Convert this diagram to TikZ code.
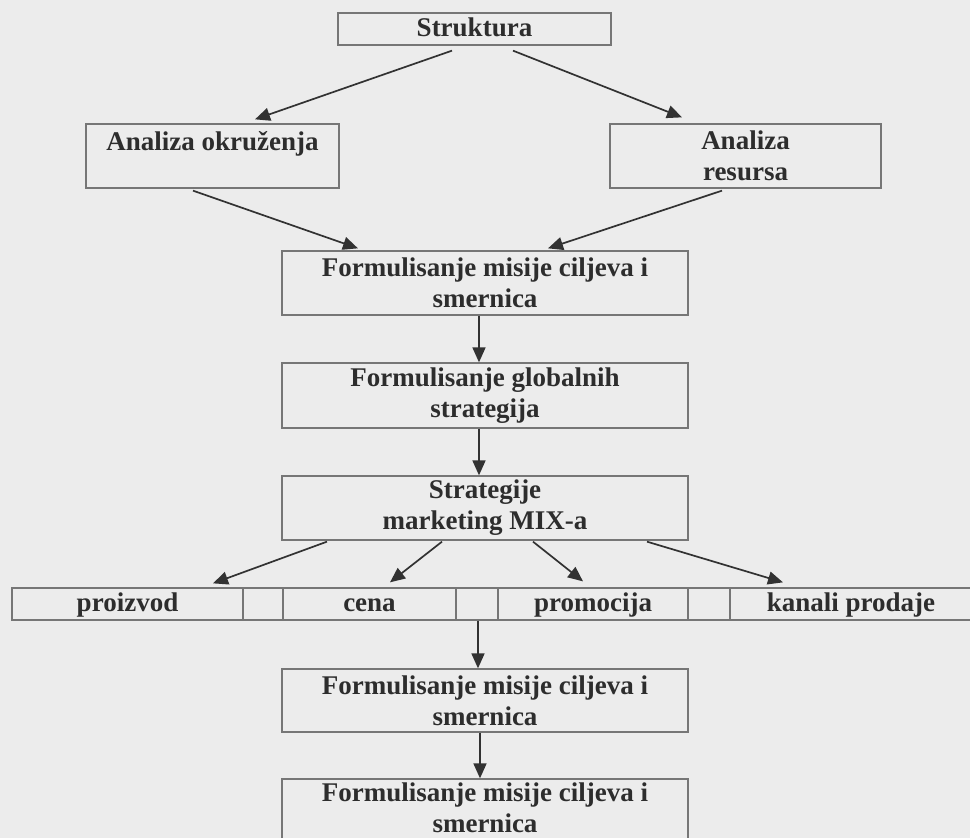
\documentclass[tikz,border=0pt]{standalone}
\usepackage{fontspec}
\setmainfont{Liberation Serif}
\usetikzlibrary{arrows.meta}
\definecolor{bg}{RGB}{236,236,236}
\definecolor{boxline}{RGB}{118,118,118}
\definecolor{ink}{RGB}{45,45,45}
\definecolor{arrowink}{RGB}{50,50,50}
\begin{document}
\begin{tikzpicture}[x=1pt,y=-1pt,
  box/.style={draw=boxline, line width=1.3pt, inner sep=0pt, align=center,
    text=ink, font=\bfseries\fontsize{27}{31}\selectfont},
  cell/.style={box, minimum height=32pt, text height=19pt, text depth=5pt},
  arr/.style={draw=arrowink, line width=1.7pt, -{Triangle[length=15pt,width=13pt]}},
]
\clip (0,0) rectangle (970,838);
\fill[bg] (0,0) rectangle (970,838);

% planning chain
\node[box, minimum width=273pt, minimum height=32pt, text height=19pt, text depth=5pt] (struk) at (474.5,29) {Struktura};
\node[box, minimum width=253pt, minimum height=64pt] (okr) at (212.5,156) {Analiza okruženja\\\mbox{}};
\node[box, minimum width=271pt, minimum height=64pt] (res) at (745.5,156) {Analiza\\resursa};
\node[box, minimum width=406pt, minimum height=64pt] (f1) at (485,283) {Formulisanje misije ciljeva i\\smernica};
\node[box, minimum width=406pt, minimum height=65pt] (glob) at (485,395.5) {Formulisanje globalnih\\strategija};
\node[box, minimum width=406pt, minimum height=64pt] (strat) at (485,508) {Strategije\\marketing MIX-a};

% marketing mix row
\node[cell, minimum width=231pt] (proiz) at (127.5,604) {proizvod};
\node[cell, minimum width=40pt] (e1) at (263,604) {};
\node[cell, minimum width=173pt] (cena) at (369.5,604) {cena};
\node[cell, minimum width=42pt] (e2) at (477,604) {};
\node[cell, minimum width=190pt] (promo) at (593,604) {promocija};
\node[cell, minimum width=42pt] (e3) at (709,604) {};
\node[cell, minimum width=242pt] (kanal) at (851,604) {kanali prodaje};

\node[box, minimum width=406pt, minimum height=63pt] (f2) at (485,700.5) {Formulisanje misije ciljeva i\\smernica};
\node[box, minimum width=406pt, minimum height=64pt] (f3) at (485,811) {Formulisanje misije ciljeva i\\smernica\vphantom{g}};

% connectors
\draw[arr] ([xshift=-22.5pt,yshift=-5pt]struk.south) -- ([xshift=42.5pt,yshift=4pt]okr.north);
\draw[arr] ([xshift=38.5pt,yshift=-5pt]struk.south) -- ([xshift=-63.5pt,yshift=6pt]res.north);
\draw[arr] ([xshift=-19.5pt,yshift=-2pt]okr.south) -- ([xshift=-127pt,yshift=2pt]f1.north);
\draw[arr] ([xshift=-23.5pt,yshift=-2pt]res.south) -- ([xshift=63pt,yshift=2pt]f1.north);
\draw[arr] ([xshift=-6pt]f1.south) -- ([xshift=-6pt]glob.north);
\draw[arr] ([xshift=-6pt]glob.south) -- ([xshift=-6pt]strat.north);
\draw[arr] ([xshift=-158pt,yshift=-1pt]strat.south) -- ([xshift=85.5pt,yshift=4pt]proiz.north);
\draw[arr] ([xshift=-43pt,yshift=-1pt]strat.south) -- ([xshift=20.5pt,yshift=5pt]cena.north);
\draw[arr] ([xshift=48pt,yshift=-1pt]strat.south) -- ([xshift=-10pt,yshift=6pt]promo.north);
\draw[arr] ([xshift=162pt,yshift=-1pt]strat.south) -- ([xshift=-68pt,yshift=5pt]kanal.north);
\draw[arr] ([xshift=1pt]e2.south) -- ([xshift=-7pt]f2.north);
\draw[arr] ([xshift=-5pt]f2.south) -- ([xshift=-5pt]f3.north);
\end{tikzpicture}
\end{document}
